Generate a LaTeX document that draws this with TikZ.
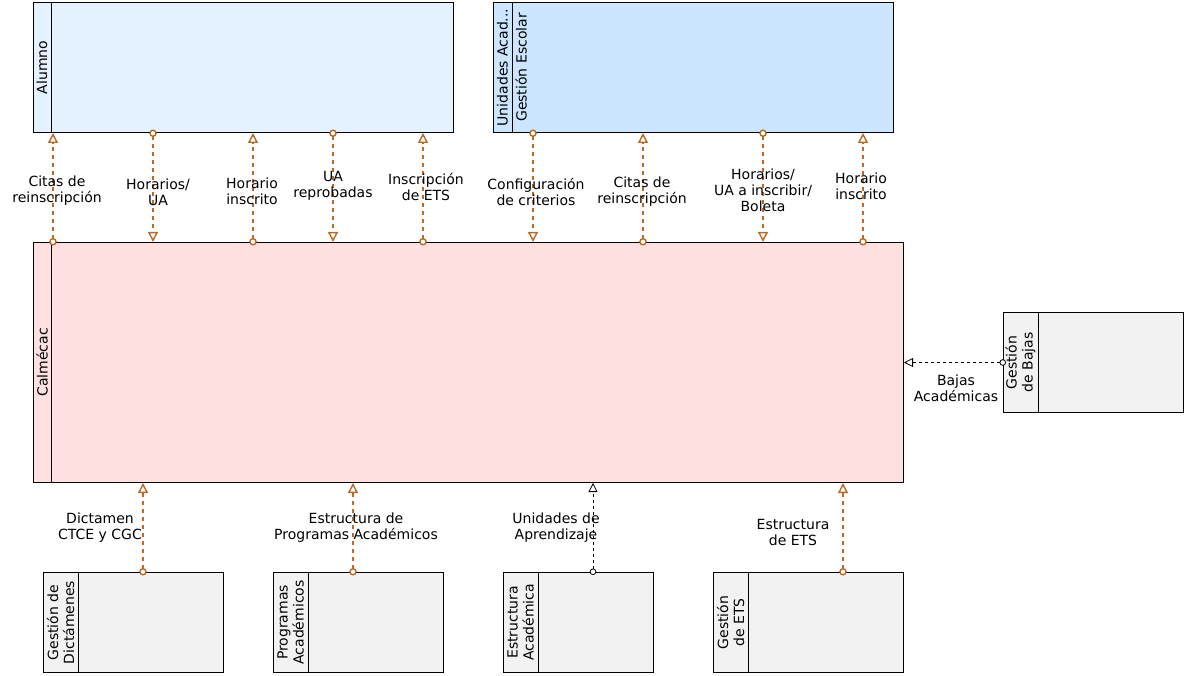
\documentclass[tikz,border=0pt]{standalone}
\usepackage{fontspec}
\setmainfont{DejaVu Sans}
\usepackage{tikz}
\usetikzlibrary{arrows.meta}

\definecolor{naranja}{HTML}{BA6A22}
\definecolor{azul}{HTML}{E4F2FF}
\definecolor{azulb}{HTML}{CCE6FF}
\definecolor{rosa}{HTML}{FFE0E0}
\definecolor{gris}{HTML}{F2F2F2}

\begin{document}
\begin{tikzpicture}[x=1pt, y=-1pt, font=\fontsize{14}{16}\selectfont,
  caja/.style = {draw, line width=1pt, inner sep=0pt, anchor=north west},
  etq/.style = {align=center},
  cab/.style = {rotate=90, align=center},
  fl/.style = {draw=naranja, line width=1.6pt, dash pattern=on 4pt off 4pt,
    {Circle[open,fill=white,length=7.5pt,width=7.5pt,line width=1.4pt]}-{Triangle[open,fill=white,length=10pt,width=10pt,line width=1.4pt]},
    shorten <=-3.5pt},
  dep/.style = {draw=black, line width=0.8pt, dash pattern=on 3pt off 3pt,
    {Circle[open,fill=white,length=6.5pt,width=6.5pt,line width=0.8pt]}-{Triangle[open,fill=white,length=9pt,width=9pt,line width=0.8pt]},
    shorten <=-3pt}]
\useasboundingbox (0,0) rectangle (1187,676);

% carriles
\node[caja, fill=azul, minimum width=420pt, minimum height=130pt] (alumno) at (33,2) {};
\node[caja, fill=azulb, minimum width=400pt, minimum height=130pt] (escolar) at (493,2) {};
\node[caja, fill=rosa, minimum width=870pt, minimum height=240pt] (calmecac) at (33,242) {};
\node[caja, fill=gris, minimum width=180pt, minimum height=100pt] (bajas) at (1003,312) {};
\node[caja, fill=gris, minimum width=180pt, minimum height=100pt] (dict) at (43,572) {};
\node[caja, fill=gris, minimum width=170pt, minimum height=100pt] (prog) at (273,572) {};
\node[caja, fill=gris, minimum width=150pt, minimum height=100pt] (estr) at (503,572) {};
\node[caja, fill=gris, minimum width=190pt, minimum height=100pt] (ets) at (713,572) {};

\draw[line width=1pt] ([xshift=18pt]alumno.north west) -- ([xshift=18pt]alumno.south west);
\draw[line width=1pt] ([xshift=19pt]escolar.north west) -- ([xshift=19pt]escolar.south west);
\draw[line width=1pt] ([xshift=18pt]calmecac.north west) -- ([xshift=18pt]calmecac.south west);
\draw[line width=1pt] ([xshift=35pt]bajas.north west) -- ([xshift=35pt]bajas.south west);
\draw[line width=1pt] ([xshift=35pt]dict.north west) -- ([xshift=35pt]dict.south west);
\draw[line width=1pt] ([xshift=35pt]prog.north west) -- ([xshift=35pt]prog.south west);
\draw[line width=1pt] ([xshift=35pt]estr.north west) -- ([xshift=35pt]estr.south west);
\draw[line width=1pt] ([xshift=35pt]ets.north west) -- ([xshift=35pt]ets.south west);

\node[cab] (alumnoN) at ([xshift=9pt]alumno.west) {Alumno};
\node[cab] (unidadesN) at ([xshift=9.5pt]escolar.west) {Unidades Acad...};
\node[cab] (escolarN) at ([xshift=28pt]escolar.west) {Gestión Escolar};
\node[cab] (calmecacN) at ([xshift=9pt]calmecac.west) {Calmécac};
\node[cab] (bajasN) at ([xshift=17.5pt]bajas.west) {Gestión\\de Bajas};
\node[cab] (dictN) at ([xshift=17.5pt]dict.west) {Gestión de\\Dictámenes};
\node[cab] (progN) at ([xshift=17.5pt]prog.west) {Programas\\Académicos};
\node[cab] (estrN) at ([xshift=17.5pt]estr.west) {Estructura\\Académica};
\node[cab] (etsN) at ([xshift=17.5pt]ets.west) {Gestión\\de ETS};

% flujos superiores
\draw[fl] ([xshift=20pt]calmecac.north west) -- ([xshift=20pt]alumno.south west);
\draw[fl] ([xshift=120pt]alumno.south west) -- ([xshift=120pt]calmecac.north west);
\draw[fl] ([xshift=220pt]calmecac.north west) -- ([xshift=220pt]alumno.south west);
\draw[fl] ([xshift=300pt]alumno.south west) -- ([xshift=300pt]calmecac.north west);
\draw[fl] ([xshift=390pt]calmecac.north west) -- ([xshift=390pt]alumno.south west);
\draw[fl] ([xshift=40pt]escolar.south west) -- ([xshift=500pt]calmecac.north west);
\draw[fl] ([xshift=610pt]calmecac.north west) -- ([xshift=150pt]escolar.south west);
\draw[fl] ([xshift=270pt]escolar.south west) -- ([xshift=730pt]calmecac.north west);
\draw[fl] ([xshift=830pt]calmecac.north west) -- ([xshift=370pt]escolar.south west);

% flujos inferiores
\draw[fl] ([xshift=100pt]dict.north west) -- ([xshift=110pt]calmecac.south west);
\draw[fl] ([xshift=80pt]prog.north west) -- ([xshift=320pt]calmecac.south west);
\draw[dep] ([xshift=90pt]estr.north west) -- ([xshift=560pt]calmecac.south west);
\draw[fl] ([xshift=130pt]ets.north west) -- ([xshift=810pt]calmecac.south west);
\draw[dep] (bajas.west) -- (calmecac.east);

% etiquetas
\node[etq] (e1) at (57,191) {Citas de\\reinscripción};
\node[etq] (e2) at (158,192) {Horarios/\\UA};
\node[etq] (e3) at (252,191) {Horario\\inscrito};
\node[etq] (e4) at (333,186) {UA\\reprobadas};
\node[etq] (e5) at (426,187) {Inscripción\\de ETS};
\node[etq] (e6) at (536,192) {Configuración\\de criterios};
\node[etq] (e7) at (642,192) {Citas de\\reinscripción};
\node[etq] (e8) at (763,190) {Horarios/\\UA a inscribir/\\Boleta};
\node[etq] (e9) at (861,186) {Horario\\inscrito};
\node[etq] (e10) at (956,388) {Bajas\\Académicas};
\node[etq] (e11) at (100,528) {Dictamen\\CTCE y CGC};
\node[etq] (e12) at (356,528) {Estructura de\\Programas Académicos};
\node[etq] (e13) at (556,528) {Unidades de\\Aprendizaje};
\node[etq] (e14) at (793,532) {Estructura\\de ETS};
\end{tikzpicture}
\end{document}
